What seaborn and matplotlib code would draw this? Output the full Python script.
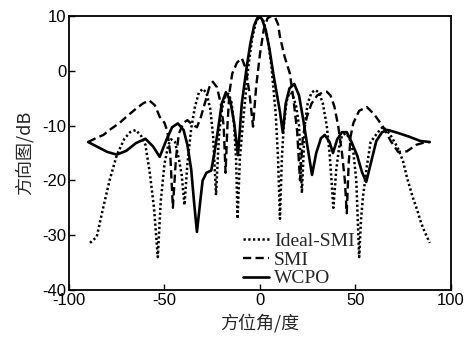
import matplotlib
matplotlib.use("Agg")
import matplotlib.pyplot as plt
import seaborn as sns
import pandas as pd

# ---- data ----
wcpo_x = [-90, -85, -80, -75, -70, -65, -60, -56, -52.5, -49, -46, -43, -40, -38, -36, -34.5, -33,
          -31, -30, -28, -25.5, -23.6, -22, -20, -17.8, -15.5, -13.5, -11.5, -9.5, -7, -5, -3, -1,
          1, 3, 5, 7, 9, 10.5, 12, 13.5, 15.5, 18, 20.5, 22.5, 25, 27.3, 29.5, 32, 34, 36.5, 38.3,
          40.5, 43, 45.5, 48, 51, 53.5, 55.7, 58, 61, 64, 67, 72, 78, 84, 89]
wcpo_y = [-13, -13.9, -14.8, -15.3, -14.6, -13.2, -12.4, -13.8, -15.7, -12.6, -10.3, -9.6, -10.8,
          -13.5, -18, -24, -29.4, -23, -20, -18.6, -18.2, -14.5, -10.8, -6, -3.9, -5.5, -9.5, -15.4,
          -6, 0.5, 5, 8.3, 9.9, 9.5, 7.5, 4, -0.5, -4.5, -7.5, -11.3, -6, -3.2, -2.4, -4.5, -8.5,
          -14, -19, -15, -12.3, -11.7, -13, -15, -12.5, -11.2, -11.2, -13, -15.5, -18.5, -20.3,
          -17, -12.8, -11.2, -10.8, -11.3, -12, -12.8, -13]

smi_x = [-90, -86, -82, -78, -73.5, -69, -64.5, -61, -58, -55, -52.5, -50, -48.5, -47, -45.6, -44,
         -42.5, -40, -38, -35.5, -33, -31, -28.5, -26.5, -24.7, -22.5, -20.5, -19, -18, -17, -16,
         -14.5, -12, -9.5, -7.5, -5.5, -3.6, -2, 0, 2, 4, 6, 8, 9.5, 10.5, 13, 15.7, 17.5, 19.5,
         21, 22.5, 24.6, 27, 30, 33, 35, 37, 39, 41, 43, 44.5, 45.5, 46.5, 47.5, 49, 52, 56, 60,
         64.5, 68.5, 72.4, 77, 82, 86, 89]
smi_y = [-13, -12.3, -11.7, -10.6, -9.5, -8.1, -6.8, -5.9, -5.4, -6.3, -8.4, -9.5, -11, -15, -25,
         -16, -11.5, -9.5, -9, -9.8, -10.3, -8.5, -5.5, -3, -2, -3, -6, -10, -18.6, -10, -4, -0.5,
         1.5, 2.3, 0.5, -4, -10.2, -3, 3, 7.5, 9.6, 10, 9.7, 8.5, 6.2, 2.5, -0.5, -5, -11, -20, -12,
         -8.4, -6, -4.5, -3.9, -3.8, -4.5, -6.5, -10, -15, -20, -26, -17, -12, -9.5, -7.3, -6.6,
         -8, -10.2, -12.8, -14.8, -14.7, -13.5, -13.1, -13]

ideal_x = [-89, -85.5, -82.4, -78.7, -75, -71, -68, -65, -62, -60, -57.7, -55.5, -53.5, -52, -50,
           -48, -46.5, -44.5, -42.5, -41, -39.5, -38, -36, -34, -32, -30, -28, -26, -24.5, -23,
           -21.5, -20, -18, -16.5, -15, -13.5, -12.5, -11.7, -10.5, -8.5, -6, -4, -2, 0, 2, 4, 6,
           8.3, 9.5, 10.5, 11.5, 12.5, 14, 15.5, 17, 19, 20.5, 22, 23.5, 25, 27, 29, 31, 33, 35,
           36.5, 38.5, 40, 41.5, 43, 45, 47, 49, 50.5, 52, 53, 54, 56, 58, 61.4, 64.5, 68, 72, 75,
           77, 80, 82.4, 84.5, 86.6, 89]
ideal_y = [-31.4, -30.3, -25.4, -19.9, -15.4, -12.4, -11.2, -10.8, -12, -13.5, -18.6, -25, -34,
           -24, -17, -13.5, -12.5, -13, -16, -19, -24.5, -17, -10.5, -6.5, -4, -3.3, -4, -7, -12,
           -22.7, -12, -7, -4.5, -4.2, -5.5, -10, -16, -27, -16, -8, 1, 6, 9, 10, 9, 6, 1, -8, -16,
           -27, -16, -10, -5.5, -4, -4.2, -6.5, -10, -22.3, -10, -6, -4, -3.5, -4, -6, -10, -15,
           -25, -18, -14, -11.8, -11.4, -12.3, -15, -20, -34, -27, -23, -17.5, -13, -11.4, -10.2,
           -11.5, -13.9, -16.5, -19.4, -23, -25.4, -27.8, -29.6, -31.4]

series_names = ["Ideal-SMI", "SMI", "WCPO"]
x_ticks = [-100, -50, 0, 50, 100]
y_ticks = [-40, -30, -20, -10, 0, 10]
x_label = "方位角/度"
y_label = "方向图/dB"

# ---- plotting ----
sns.set_theme(style="white")
plt.rcParams["font.family"] = ["Liberation Sans", "DejaVu Sans"]

fig = plt.figure(figsize=(4.73, 3.37), dpi=100)
ax = fig.add_axes([0.146, 0.1395, 0.807, 0.813])

df_ideal = pd.DataFrame({"x": ideal_x, "y": ideal_y})
df_smi = pd.DataFrame({"x": smi_x, "y": smi_y})
df_wcpo = pd.DataFrame({"x": wcpo_x, "y": wcpo_y})

sns.lineplot(data=df_ideal, x="x", y="y", ax=ax, color="black", lw=1.8,
             linestyle=(0, (0.9, 1.0)), sort=False, estimator=None, label=series_names[0])
sns.lineplot(data=df_smi, x="x", y="y", ax=ax, color="black", lw=1.7,
             linestyle=(0, (3.5, 1.8)), sort=False, estimator=None, label=series_names[1])
sns.lineplot(data=df_wcpo, x="x", y="y", ax=ax, color="black", lw=1.9,
             linestyle="-", sort=False, estimator=None, label=series_names[2])

ax.set_xlim(-100, 100)
ax.set_ylim(-40, 10)
ax.set_xticks(x_ticks)
ax.set_yticks(y_ticks)
ax.set_xticklabels([str(t) for t in x_ticks])
ax.set_yticklabels([str(t) for t in y_ticks])
ax.tick_params(axis="both", direction="in", length=4, width=1, labelsize=12,
               colors="black", pad=2, top=False, right=False, bottom=True, left=True)
for s in ax.spines.values():
    s.set_color("black")
    s.set_linewidth(1.3)

ax.set_xlabel(x_label, fontsize=13, family=["Noto Sans CJK SC", "DejaVu Sans"], labelpad=4)
ax.set_ylabel(y_label, fontsize=13, family=["Noto Sans CJK SC", "DejaVu Sans"], labelpad=6)

leg = ax.legend(loc="lower left", bbox_to_anchor=(0.445, -0.005), frameon=False,
                prop={"family": "Liberation Serif", "size": 14}, handlelength=1.35,
                handletextpad=0.25, labelspacing=0.05, borderpad=0.2, borderaxespad=0)

fig.savefig("out.png", dpi=100)
